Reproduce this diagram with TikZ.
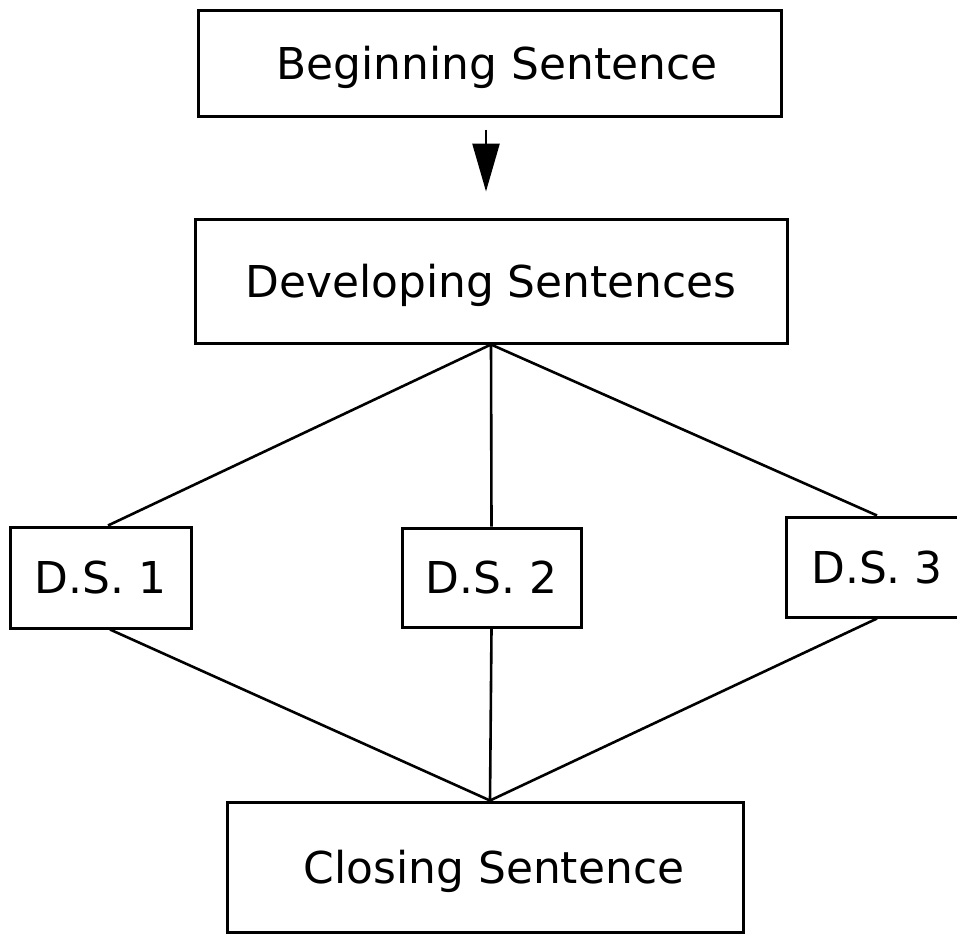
\documentclass[tikz,border=0pt]{standalone}
\usepackage{fontspec}
\setmainfont{DejaVu Sans}
\usetikzlibrary{arrows.meta}
\begin{document}
\begin{tikzpicture}[x=1pt,y=-1pt,
  box/.style={draw=black,line width=3pt,inner sep=0pt,
    text height=32pt,text depth=0pt,
    font=\fontsize{43.9pt}{50pt}\selectfont},
  link/.style={draw=black,line width=2.6pt},
  arr/.style={draw=black,line width=2.6pt,-{Triangle[length=48pt,width=27pt]}}]
\useasboundingbox (0,0) rectangle (957,934);
\clip (0,0) rectangle (957,934);
\node[box,minimum width=583pt,minimum height=105pt] (B) at (489.5,63.5) {\hspace*{15pt}Beginning Sentence};
\node[box,minimum width=592pt,minimum height=124pt] (D) at (491,281) {Developing Sentences};
\node[box,minimum width=181pt,minimum height=101pt] (S1) at (100.5,577.5) {D.S. 1};
\node[box,minimum width=179pt,minimum height=99pt] (S2) at (491.5,577.5) {D.S. 2};
\node[box,minimum width=182pt,minimum height=100pt] (S3) at (877,567) {D.S. 3};
\node[box,minimum width=516pt,minimum height=130pt] (C) at (485,867) {\hspace*{18pt}Closing Sentence};
\draw[arr,shorten <=12pt,shorten >=26pt] ([xshift=-3.5pt]B.south) -- ([xshift=-3.5pt]B.south |- D.north);
\draw[link] (D.south) -- ([xshift=7.5pt]S1.north);
\draw[link] (D.south) -- (S2.north);
\draw[link] (D.south) -- (S3.north);
\draw[link] ([xshift=9.5pt]S1.south) -- ([xshift=5pt]C.north);
\draw[link] (S2.south) -- ([xshift=5pt]C.north);
\draw[link] (S3.south) -- ([xshift=5pt]C.north);
\end{tikzpicture}
\end{document}
